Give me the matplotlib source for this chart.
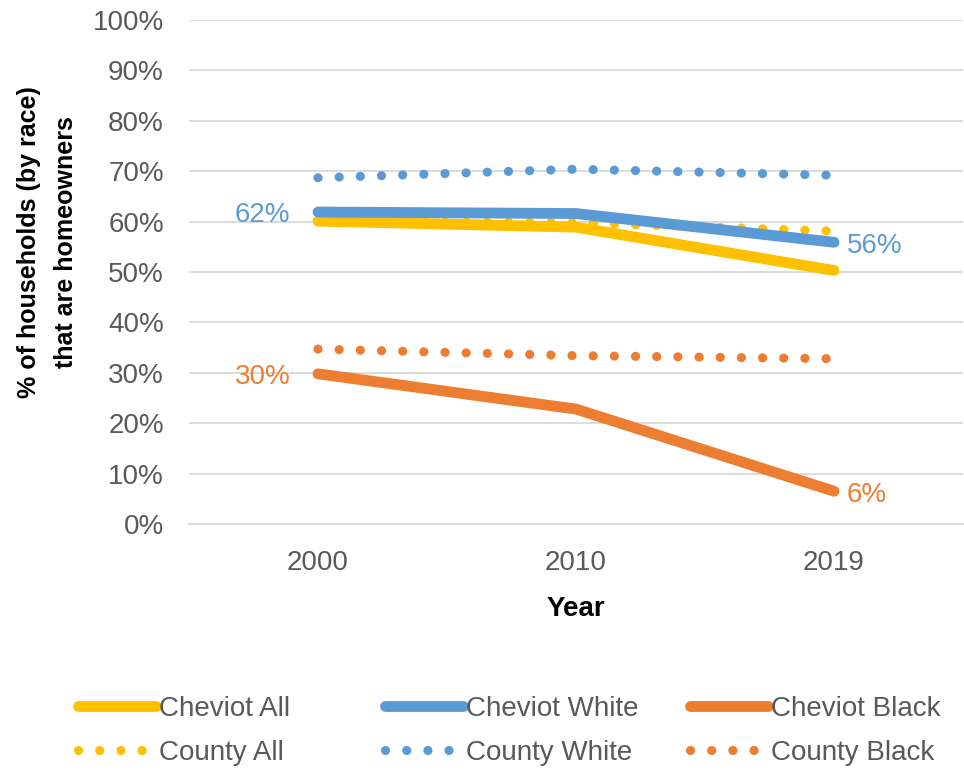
import matplotlib.pyplot as plt
from matplotlib.ticker import PercentFormatter

plt.rcParams['font.family'] = ['Liberation Sans', 'DejaVu Sans']

years = ['2000', '2010', '2019']
cheviot_all = [60.1, 58.9, 50.3]
cheviot_white = [61.9, 61.6, 55.9]
cheviot_black = [29.8, 22.8, 6.5]
county_all = [60.0, 59.8, 58.1]
county_white = [68.7, 70.4, 69.2]
county_black = [34.7, 33.4, 32.8]

YELLOW = '#FFC000'
BLUE = '#5B9BD5'
ORANGE = '#ED7D31'
GREY = '#595959'

fig = plt.figure(figsize=(9.64, 7.70), dpi=100)
ax = fig.add_axes([0.196, 0.3195, 0.803, 0.6545])

x = range(len(years))
dots = (0, (0.01, 2.3))

# dotted county lines first, cheviot solid lines on top
l_ca, = ax.plot(x, county_all, color=YELLOW, lw=6.6, ls=dots, dash_capstyle='round', label='County All')
l_cw, = ax.plot(x, county_white, color=BLUE, lw=6.6, ls=dots, dash_capstyle='round', label='County White')
l_cb, = ax.plot(x, county_black, color=ORANGE, lw=6.6, ls=dots, dash_capstyle='round', label='County Black')
l_a, = ax.plot(x, cheviot_all, color=YELLOW, lw=7.8, solid_capstyle='round', label='Cheviot All')
l_w, = ax.plot(x, cheviot_white, color=BLUE, lw=7.8, solid_capstyle='round', label='Cheviot White')
l_b, = ax.plot(x, cheviot_black, color=ORANGE, lw=7.8, solid_capstyle='round', label='Cheviot Black')

# data labels at ends of Cheviot White / Black
for vals, col in [(cheviot_white, BLUE), (cheviot_black, ORANGE)]:
    ax.annotate('{:.0f}%'.format(vals[0]), (0, vals[0]), xytext=(-20, -2), textcoords='offset points',
                ha='right', va='center', color=col, fontsize=20)
    ax.annotate('{:.0f}%'.format(vals[-1]), (2, vals[-1]), xytext=(9, -3), textcoords='offset points',
                ha='left', va='center', color=col, fontsize=20)

ax.set_xlim(-0.5, 2.5)
ax.set_ylim(0, 100)
ax.set_yticks(range(0, 101, 10))
ax.yaxis.set_major_formatter(PercentFormatter(decimals=0))
ax.set_xticks(list(x))
ax.set_xticklabels(years)
ax.tick_params(axis='both', length=0, labelsize=20, labelcolor=GREY)
ax.tick_params(axis='x', pad=19)
ax.tick_params(axis='y', pad=18)
ax.grid(axis='y', color='#D9D9D9', lw=1.3)
ax.set_axisbelow(True)
for s in ['top', 'right', 'left']:
    ax.spines[s].set_visible(False)
ax.spines['bottom'].set_color('#D9D9D9')
ax.spines['bottom'].set_linewidth(1.3)

ax.set_xlabel('Year', fontsize=20, fontweight='bold', labelpad=14)
ax.set_ylabel('% of households (by race)\nthat are homeowners', fontsize=18, fontweight='bold',
              linespacing=1.7)
ax.yaxis.set_label_coords(-0.143, 0.56)

# three two-row legend columns, like Excel lays them out
pairs = [(l_a, l_ca), (l_w, l_cw), (l_b, l_cb)]
col_x = [78, 385, 690]
for (h1, h2), px in zip(pairs, col_x):
    leg = fig.legend([h1, h2], [h1.get_label(), h2.get_label()], loc='upper left',
                     bbox_to_anchor=(px / 964, 0.096), frameon=False, fontsize=20,
                     handlelength=2.8, handletextpad=0.1, labelspacing=0.63,
                     borderpad=0, borderaxespad=0)
    for t in leg.get_texts():
        t.set_color(GREY)

fig.savefig('out.png', dpi=100)
